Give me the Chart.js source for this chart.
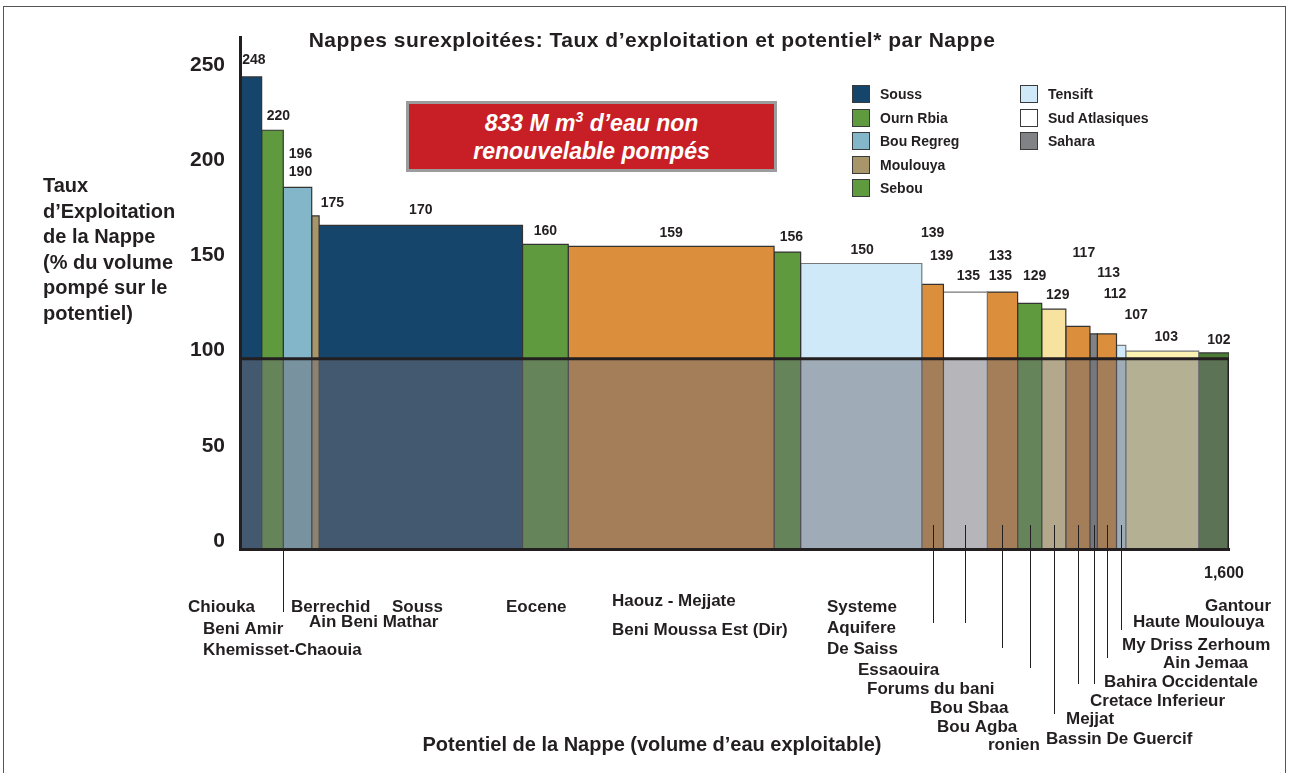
<!DOCTYPE html>
<html lang="fr">
<head>
<meta charset="utf-8">
<title>Nappes surexploitées</title>
<script src="https://cdn.jsdelivr.net/npm/chart.js@4.4.1/dist/chart.umd.min.js"></script>
<style>
  html, body { margin: 0; padding: 0; background: #fff; }
  body {
    width: 1290px; height: 773px; position: relative; overflow: hidden;
    font-family: "Liberation Sans", Arial, sans-serif; font-weight: bold; color: #231f20;
  }
  #frame { position: absolute; left: 3px; top: 6px; width: 1281px; height: 820px; border: 1px solid #555; }
  #chart { position: absolute; left: 0; top: 0; }
  .txt { position: absolute; white-space: nowrap; }
  #title { left: 152px; top: 28px; width: 1000px; text-align: center; font-size: 21px; letter-spacing: 0.5px; }
  #ytitle { left: 43px; top: 173px; font-size: 20px; line-height: 25.5px; white-space: normal; }
  #xtitle { left: 152px; top: 733px; width: 1000px; text-align: center; font-size: 20px; }
  #callout {
    position: absolute; left: 406px; top: 101px; width: 365px; height: 65px;
    border: 3px solid #9c9c9c; background: #c81f27; color: #fff;
    font-style: italic; font-size: 23px; line-height: 28px; text-align: center;
    display: flex; flex-direction: column; justify-content: center;
  }
  #callout sup { font-size: 14px; vertical-align: 9px; line-height: 0; }
  .leg { position: absolute; font-size: 14px; line-height: 18px; }
  .leg i { position: absolute; left: 0; top: 0; width: 16px; height: 16px; border: 1px solid #3a3a3a; }
  .leg span { position: absolute; left: 28px; top: 0; white-space: nowrap; }
</style>
</head>
<body>
<div id="frame"></div>
<canvas id="chart" width="1290" height="773"></canvas>
<div id="title" class="txt">Nappes surexploitées: Taux d’exploitation et potentiel* par Nappe</div>
<div id="ytitle" class="txt">Taux<br>d’Exploitation<br>de la Nappe<br>(% du volume<br>pompé sur le<br>potentiel)</div>
<div id="xtitle" class="txt">Potentiel de la Nappe (volume d’eau exploitable)</div>
<div id="callout"><div>833 M m<sup>3</sup> d’eau non</div><div>renouvelable pompés</div></div>
<div id="legend"></div>
<script>
// Data
const nappes = ['Chiouka', 'Beni Amir', 'Khemisset-Chaouia', 'Berrechid', 'Ain Beni Mathar', 'Souss',
  'Eocene', 'Haouz - Mejjate', 'Beni Moussa Est (Dir)', 'Systeme\nAquifere\nDe Saiss', 'Essaouira',
  'Forums du bani', 'Bou Sbaa', 'Bou Agba', 'ronien', 'Mejjat', 'Bassin De Guercif', 'Cretace Inferieur',
  'Bahira Occidentale', 'Ain Jemaa', 'My Driss Zerhoum', 'Haute Moulouya', 'Gantour'];
// one entry per visible bar, left to right
const taux = [248, 220, 190, 175, 170, 160, 159, 156, 150, 139, 135, 135, 129, 126, 117, 113, 113, 107, 104, 103];
const potentiel = [35, 35, 46, 12, 329, 74, 333, 43, 196, 35, 71, 49, 39, 39, 39, 12, 31, 15, 118, 49];
const bassin = ['Souss', 'Ourn Rbia', 'Bou Regreg', 'Moulouya', 'Souss', 'Ourn Rbia', 'orange', 'Ourn Rbia',
  'Tensift', 'orange', 'Sud Atlasiques', 'orange', 'Sebou', 'jaune', 'orange', 'Sahara', 'orange', 'Tensift',
  'jaune clair', 'vert fonce'];
const valeurs = [['248'], ['220'], ['196', '190'], ['175'], ['170'], ['160'], ['159'], ['156'], ['150'],
  ['139', '139'], ['135'], ['133', '135'], ['129'], ['129'], ['117'], ['113'], ['112'], ['107'], ['103'], ['102']];
const legende = ['Souss', 'Ourn Rbia', 'Bou Regreg', 'Moulouya', 'Sebou', 'Tensift', 'Sud Atlasiques', 'Sahara'];
const yTicks = [0, 50, 100, 150, 200, 250];
const seuil = 100;
const potentielTotal = 1600;

// Styles
const palette = {
  'Souss': '#16456b', 'Ourn Rbia': '#5f9a3e', 'Bou Regreg': '#82b6c8', 'Moulouya': '#a8966a',
  'Sebou': '#5f9a3e', 'Tensift': '#d0e9f8', 'Sud Atlasiques': '#ffffff', 'Sahara': '#808285',
  'orange': '#db8f3c', 'jaune': '#f8e2a0', 'jaune clair': '#fbf2b2', 'vert fonce': '#4b7b34'
};
const ink = '#231f20';
const font = "'Liberation Sans', Arial, sans-serif";

// Layout of the free-floating annotations (pixels)
const labelNudge = [[[3, -2]], [[6, 1]], [[3, -18], [3, 0]], [[17, 2]], [[0, 0]], [[0, 2]], [[0, 2]], [[4, 0]],
  [[1, 2]], [[0, -36], [9, -13]], [[3, -1]], [[-2, -21], [-2, -1]], [[5, -12]], [[4, 1]], [[6, -58]],
  [[15, -46]], [[8, -25]], [[15, -15]], [[4, 1]], [[5, 2]]];
const nameSpots = [[188, 607], [203, 629], [203, 650], [291, 607], [309, 622], [392, 607], [506, 607],
  [612, 601], [612, 630], [827, 607], [858, 670], [867, 689], [930, 708], [937, 727], [988, 745],
  [1066, 719], [1046, 739], [1090, 701], [1104, 682], [1163, 663], [1122, 645], [1133, 622], [1205, 606]];
// [bar, anchor, from, to] — offsets from the chart bottom
const leaders = [[2, 'left', 0, 63], [9, 'mid', -24, 74], [10, 'mid', -24, 74], [11, 'mid', -24, 99],
  [12, 'mid', -24, 119], [13, 'mid', -24, 165], [14, 'mid', -24, 135], [15, 'mid', -24, 135],
  [16, 'mid', -24, 109], [17, 'mid', -24, 81]];

// Legend
const legendEl = document.getElementById('legend');
legende.forEach((name, i) => {
  const col = i < 5 ? 0 : 1;
  const row = i < 5 ? i : i - 5;
  const div = document.createElement('div');
  div.className = 'leg';
  div.style.left = (col ? 1020 : 852) + 'px';
  div.style.top = (85 + row * 23.6) + 'px';
  div.innerHTML = `<i style="background:${palette[name]}"></i><span>${name}</span>`;
  legendEl.appendChild(div);
});

// Bar start positions along the potential axis
const starts = [];
potentiel.reduce((acc, w, i) => { starts[i] = acc; return acc + w; }, 0);

const barSets = taux.map((t, i) => {
  const s = starts[i], e = starts[i] + potentiel[i];
  const light = ['Sud Atlasiques', 'Tensift', 'jaune clair'].includes(bassin[i]);
  return {
    data: [{ x: s, y: 0 }, { x: s, y: t }, { x: e, y: t }, { x: e, y: 0 }],
    backgroundColor: palette[bassin[i]],
    borderColor: light ? '#77787b' : '#333333',
    borderWidth: 1.2,
    fill: 'origin',
    order: 1
  };
});

const overlay = {
  data: [{ x: 0, y: 0 }, { x: 0, y: seuil }, { x: potentielTotal, y: seuil }, { x: potentielTotal, y: 0 }],
  backgroundColor: 'rgba(110,110,118,0.5)',
  borderColor: ink,
  borderWidth: 3,
  fill: 'origin',
  order: 0
};

// Value labels, leader lines and aquifer names
const annotations = {
  id: 'annotations',
  afterDatasetsDraw(chart) {
    const { ctx, chartArea } = chart;
    const x = chart.scales.x, y = chart.scales.y;
    ctx.save();

    ctx.strokeStyle = ink;
    ctx.lineWidth = 1;
    leaders.forEach(([i, anchor, from, to]) => {
      const v = anchor === 'left' ? starts[i] : starts[i] + potentiel[i] / 2;
      const px = Math.round(x.getPixelForValue(v)) + 0.5;
      ctx.beginPath();
      ctx.moveTo(px, chartArea.bottom + from);
      ctx.lineTo(px, chartArea.bottom + to);
      ctx.stroke();
    });

    ctx.fillStyle = ink;
    ctx.textAlign = 'center';
    ctx.textBaseline = 'middle';
    ctx.font = `bold 14px ${font}`;
    valeurs.forEach((labels, i) => {
      const cx = x.getPixelForValue(starts[i] + potentiel[i] / 2);
      const cy = y.getPixelForValue(taux[i]) - 15;
      labels.forEach((txt, k) => {
        const [dx, dy] = labelNudge[i][k];
        ctx.fillText(txt, cx + dx, cy + dy);
      });
    });

    ctx.textAlign = 'left';
    ctx.font = `bold 17px ${font}`;
    nappes.forEach((name, i) => {
      name.split('\n').forEach((line, k) => {
        ctx.fillText(line, nameSpots[i][0], nameSpots[i][1] + k * 21);
      });
    });
    ctx.restore();
  }
};

Chart.defaults.font.family = font;
Chart.defaults.color = ink;

new Chart(document.getElementById('chart'), {
  type: 'line',
  data: { datasets: [overlay, ...barSets] },
  options: {
    responsive: false,
    animation: false,
    events: [],
    layout: { padding: { top: 37, right: 61, left: 0, bottom: 0 } },
    elements: { point: { radius: 0, hitRadius: 0 }, line: { tension: 0, borderJoinStyle: 'miter' } },
    plugins: { legend: { display: false }, tooltip: { enabled: false } },
    scales: {
      x: {
        type: 'linear',
        min: 0,
        max: potentielTotal,
        grid: { display: false, drawTicks: false },
        border: { display: true, width: 3, color: ink, z: 1 },
        ticks: {
          stepSize: potentielTotal,
          padding: 15,
          labelOffset: -5,
          maxRotation: 0,
          font: { size: 16, weight: 'bold' },
          callback: v => v === potentielTotal ? potentielTotal.toLocaleString('en-US') : ''
        },
        afterFit(scale) { scale.height = 224; }
      },
      y: {
        min: 0,
        max: 269,
        grid: { display: false, drawTicks: false },
        border: { display: true, width: 3, color: ink, z: 1 },
        ticks: {
          stepSize: 50,
          includeBounds: false,
          padding: 15,
          labelOffset: -8,
          font: { size: 21, weight: 'bold' },
          callback: v => yTicks.includes(v) ? String(v) : ''
        },
        afterFit(scale) { scale.width = 240; }
      }
    }
  },
  plugins: [annotations]
});
</script>
</body>
</html>
